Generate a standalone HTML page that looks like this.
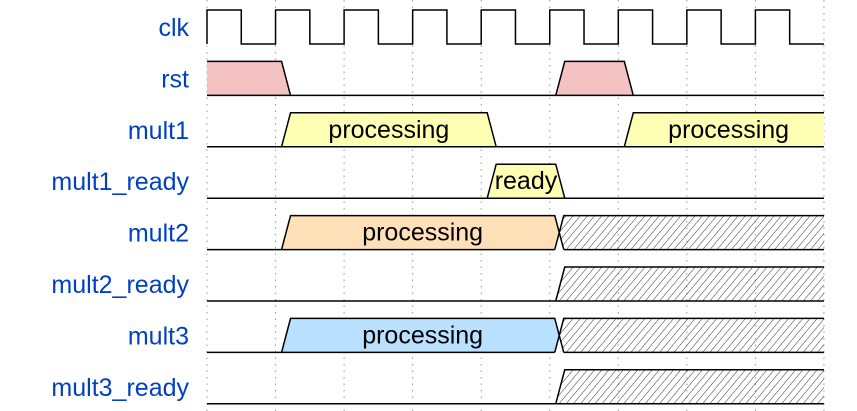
<!DOCTYPE html>
<html><head><meta charset="utf-8"><style>
html,body{margin:0;padding:0;background:#fff;}
svg{display:block;font-family:"Liberation Sans",Arial,sans-serif;}
</style></head><body>
<svg id="chart" width="857" height="411" viewBox="0 0 857 411" xmlns="http://www.w3.org/2000/svg">
<defs>
<pattern id="hatch" patternUnits="userSpaceOnUse" width="5.5" height="5.5" patternTransform="rotate(40)">
<line x1="0" y1="0" x2="0" y2="5.5" stroke="#000" stroke-width="0.8"/>
</pattern>
</defs>
<g id="grid"></g>
<g id="labels"></g>
<g id="waves"></g>
</svg>
<script>
// signal names
const signals = ["clk","rst","mult1","mult1_ready","mult2","mult2_ready","mult3","mult3_ready"];
// segments: [startPeriod, endPeriod, kind, label]; kind: 'lo','hi','data','x'
const rstSegs = [[0,1,"hi",""],[1,5,"lo",""],[5,6,"hi",""],[6,9,"lo",""]];
const mult1Segs = [[0,1,"lo",""],[1,4,"data","processing"],[4,6,"lo",""],[6,9,"data","processing"]];
const mult1ReadySegs = [[0,4,"lo",""],[4,5,"data","ready"],[5,9,"lo",""]];
const mult2Segs = [[0,1,"lo",""],[1,5,"data","processing"],[5,9,"x",""]];
const mult2ReadySegs = [[0,5,"lo",""],[5,9,"x",""]];
const mult3Segs = [[0,1,"lo",""],[1,5,"data","processing"],[5,9,"x",""]];
const mult3ReadySegs = [[0,5,"lo",""],[5,9,"x",""]];
const clkPeriods = 9;
const fills = {rst:"#f4c2c2",mult1:"#ffffb4",mult1_ready:"#ffffb4",mult2:"#ffe0b9",mult3:"#b9e0ff"};

const NS="http://www.w3.org/2000/svg";
const X0=207, P=68.55, TOP0=10, PITCH=51.4, H=34, FS=25;
const xs=t=>X0+t*P;
function mk(tag,attrs,parent){const e=document.createElementNS(NS,tag);for(const k in attrs)e.setAttribute(k,attrs[k]);parent.appendChild(e);return e;}
const grid=document.getElementById('grid'),labels=document.getElementById('labels'),waves=document.getElementById('waves');
for(let i=0;i<=clkPeriods;i++){
  const l=mk('line',{x1:xs(i),x2:xs(i),y1:0,y2:411,stroke:"#999","stroke-width":1,"stroke-dasharray":"1.5,5"},grid);
  
  
}
signals.forEach((s,i)=>{
  const t=mk('text',{x:189,y:TOP0+PITCH*i+26,"text-anchor":"end","font-size":FS,fill:"#0041c4"},labels);
  t.textContent=s;
  
  
});
// clock
(function(){
  const top=TOP0,bot=TOP0+H;let d=`M${xs(0)} ${bot} L${xs(0)} ${top}`;
  for(let i=0;i<clkPeriods;i++){d+=` L${xs(i+0.5)} ${top} L${xs(i+0.5)} ${bot} L${xs(i+1)} ${bot}`; if(i<clkPeriods-1) d+=` L${xs(i+1)} ${top}`;}
  const p=mk('path',{d:d,fill:"none",stroke:"#000","stroke-width":1.5},waves);
  
  
})();
const rowSegs={rst:rstSegs,mult1:mult1Segs,mult1_ready:mult1ReadySegs,mult2:mult2Segs,mult2_ready:mult2ReadySegs,mult3:mult3Segs,mult3_ready:mult3ReadySegs};
const E1=6,E2=15,C1=5,CM=9.5,C2=14;
const ST={fill:"none",stroke:"#000","stroke-width":1.5};
signals.slice(1).forEach((s,ri)=>{
  const i=ri+1,top=TOP0+PITCH*i,bot=top+H,mid=(top+bot)/2;
  const segs=rowSegs[s];
  const g=mk('g',{},waves);
  
  
  segs.forEach((seg,k)=>{
    const [a,b,kind,label]=seg;
    const prev=k>0?segs[k-1][2]:null, next=k<segs.length-1?segs[k+1][2]:null;
    const xa=xs(a),xb=xs(b);
    const first=k===0,last=k===segs.length-1;
    if(kind==="lo"){
      const x1=first?xa:(prev?xa+E2:xa), x2=last?xb:xb+E1;
      mk('line',{x1:x1,x2:x2,y1:bot,y2:bot,stroke:"#000","stroke-width":1.5},g);
      return;
    }
    let L, R;
    if(first) L=[[xa,bot],[xa,top]];
    else if(prev==="lo") L=[[xa+E1,bot],[xa+E2,top]];
    else L=[[xa+C2,bot],[xa+CM,mid],[xa+C2,top]];
    if(last) R=[[xb,top],[xb,bot]];
    else if(next==="lo") R=[[xb+E1,top],[xb+E2,bot]];
    else R=[[xb+C1,top],[xb+CM,mid],[xb+C1,bot]];
    const pts=L.concat(R);
    const fill = kind==="x"?"url(#hatch)":(fills[s]||"#fff");
    const poly=mk('polygon',{points:pts.map(p=>p.join(',')).join(' '),fill:fill,stroke:"none"},g);
    
    
    let topPts = (first?[L[1]]:L.slice(prev==="lo"?0:1)).concat(last?[R[0]]:R.slice(0,2));
    mk('path',Object.assign({d:"M"+topPts.map(p=>p.join(' ')).join(' L')},ST),g);
    if(prev!=="lo"&&!first){
      mk('path',Object.assign({d:`M${L[1][0]} ${L[1][1]} L${L[0][0]} ${L[0][1]}`},ST),g);
    }
    const bx1 = first?xa:(prev==="lo"?xa+E1:xa+C2);
    const bx2 = last?xb:(next==="lo"?xb+E2:xb+C1);
    mk('line',{x1:bx1,x2:bx2,y1:bot,y2:bot,stroke:"#000","stroke-width":1.5},g);
    if(next&&next!=="lo"){
      mk('path',Object.assign({d:`M${R[1][0]} ${R[1][1]} L${R[2][0]} ${R[2][1]}`},ST),g);
    }
    if(label){
      const cx = (L[L.length-1][0] + (last?xb:R[0][0]))/2;
      const tx=mk('text',{x:cx,y:mid+8,"text-anchor":"middle","font-size":FS,fill:"#000"},g);
      tx.textContent=label;
      
      
    }
  });
});
</script>
</body></html>
